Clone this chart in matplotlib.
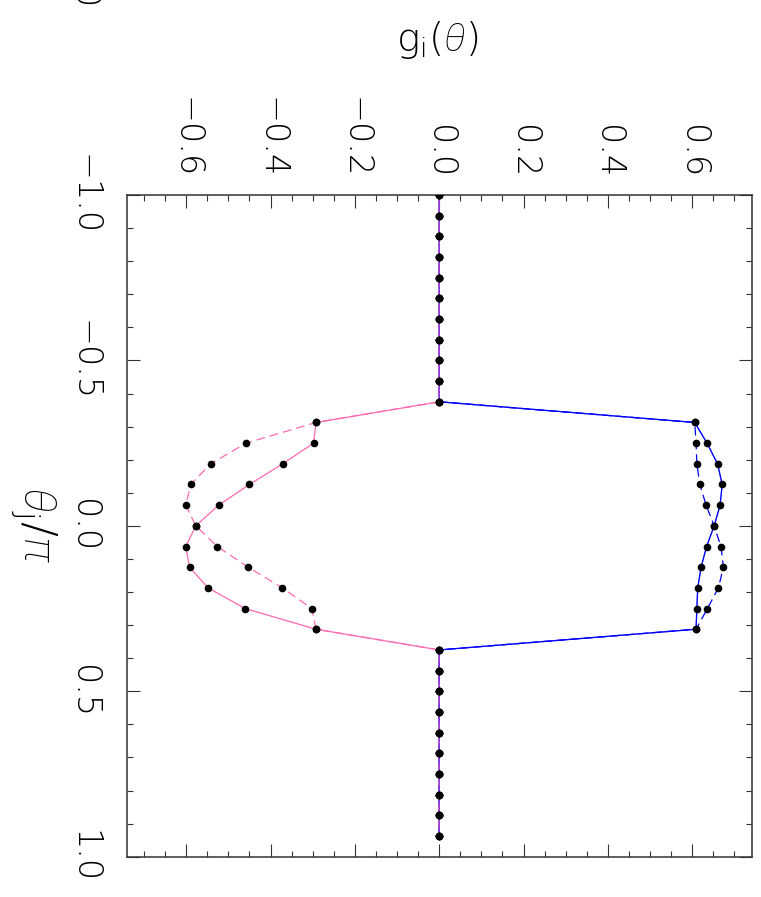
import numpy as np
import matplotlib
matplotlib.use("Agg")
import matplotlib.pyplot as plt
from matplotlib.ticker import MultipleLocator

# angle grid theta_j / pi
theta = np.arange(-16, 16) / 16

# g_i(theta) curves, zero outside |theta| <= 5/16
g_pink_solid = [0.0] * 11 + [-0.292, -0.298, -0.371, -0.450, -0.523, -0.577,
                             -0.601, -0.592, -0.548, -0.460, -0.292] + [0.0] * 10
g_pink_dash = [0.0] * 11 + [-0.292, -0.458, -0.542, -0.589, -0.601, -0.577,
                            -0.526, -0.453, -0.372, -0.302, -0.292] + [0.0] * 10
g_blue_solid = [0.0] * 11 + [0.606, 0.635, 0.660, 0.671, 0.666, 0.652,
                             0.634, 0.621, 0.613, 0.611, 0.609] + [0.0] * 10
g_blue_dash = [0.0] * 11 + [0.606, 0.609, 0.611, 0.618, 0.633, 0.652,
                            0.668, 0.674, 0.662, 0.636, 0.609] + [0.0] * 10

g_ticks = [-0.6, -0.4, -0.2, 0.0, 0.2, 0.4, 0.6]
g_labels = ["\u22120.6", "\u22120.4", "\u22120.2", "0.0", "0.2", "0.4", "0.6"]
t_ticks = [-1.0, -0.5, 0.0, 0.5, 1.0]
t_labels = ["\u22121.0", "\u22120.5", "0.0", "0.5", "1.0"]

plt.rcParams["font.family"] = "DejaVu Sans"
plt.rcParams["font.weight"] = "light"
plt.rcParams["mathtext.fontset"] = "custom"
plt.rcParams["mathtext.rm"] = "DejaVu Sans:weight=200"
plt.rcParams["mathtext.it"] = "Roboto:italic:weight=100"

W, H = 761, 897
fig = plt.figure(figsize=(W / 100, H / 100), dpi=100)
ax = fig.add_axes([126.7 / W, 1 - 856.7 / H, 625 / W, 661.7 / H])

pink = "#ff69b4"
ax.plot(g_blue_solid, theta, color="blue", lw=0.9, zorder=2)
ax.plot(g_blue_dash, theta, color="blue", lw=0.9, dashes=(7, 4), zorder=2)
ax.plot(g_pink_solid, theta, color=pink, lw=0.9, zorder=3)
ax.plot(g_pink_dash, theta, color=pink, lw=0.9, dashes=(7, 4), zorder=3)
# blend where the curves share the zero line
ax.plot(g_blue_solid, theta, color="blue", lw=0.9, alpha=0.45, zorder=4)

for g in (g_pink_solid, g_pink_dash, g_blue_solid, g_blue_dash):
    ax.plot(g, theta, "o", color="black", ms=4.5, zorder=5)

ax.set_xlim(-0.741, 0.741)
ax.set_ylim(1, -1)

ax.xaxis.tick_top()
ax.set_xticks(g_ticks, labels=g_labels, rotation=-90, fontsize=24)
ax.xaxis.set_minor_locator(MultipleLocator(0.05))
ax.set_yticks(t_ticks, labels=t_labels, rotation=-90, va="center", fontsize=24)
ax.yaxis.set_minor_locator(MultipleLocator(0.1))

ax.tick_params(which="both", direction="in", top=True, bottom=True,
               left=True, right=True, labeltop=True, labelbottom=False,
               width=0.8, color="#333333")
ax.tick_params(which="major", length=9.4)
ax.tick_params(which="minor", length=4.3)
ax.tick_params(axis="x", pad=12)
ax.tick_params(axis="y", pad=19)

for s in ax.spines.values():
    s.set_linewidth(1.1)
    s.set_color("#333333")

fig.text(437 / W, 1 - 40 / H, r"g$_\mathrm{i}$($\theta$)", ha="center",
         va="center", fontsize=28)
fig.text(34 / W, 1 - 525 / H, r"$\theta_\mathrm{j}$/$\pi$", ha="center",
         va="center", rotation=-90, fontsize=32)
fig.text(82 / W, 1 - 9 / H, "0", ha="center", va="bottom", rotation=-90,
         fontsize=24)

fig.savefig("out.png", dpi=100)
